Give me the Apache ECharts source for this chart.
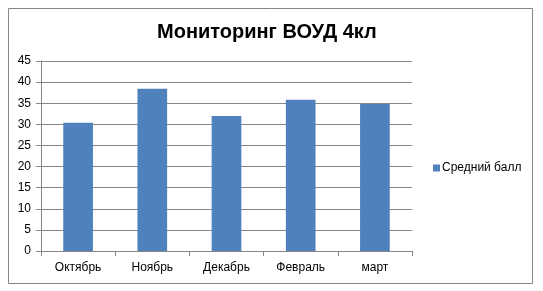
<!DOCTYPE html>
<html><head><meta charset="utf-8">
<script src="https://cdn.jsdelivr.net/npm/echarts@6/dist/echarts.min.js"></script>
<style>html,body{margin:0;padding:0;background:#fff}#c{width:543px;height:291px}</style>
</head><body><div id="c"></div>
<script>
const categories = ['Октябрь', 'Ноябрь', 'Декабрь', 'Февраль', 'март'];
const values = [30.4, 38.4, 32, 35.8, 34.8];
const seriesName = 'Средний балл';
const titleText = 'Мониторинг ВОУД 4кл';

const chart = echarts.init(document.getElementById('c'));
chart.setOption({
  animation: false,
  title: {
    text: titleText, left: 152, top: 17,
    textStyle: { fontFamily: 'Liberation Sans', fontWeight: 'bold', fontSize: 20, color: '#000' }
  },
  legend: {
    data: [seriesName], left: 428, top: 157, itemWidth: 7, itemHeight: 7, itemGap: 4,
    icon: 'rect',
    textStyle: { fontFamily: 'Liberation Sans', fontSize: 12, color: '#000', padding: [0,0,0,-3] }
  },
  grid: { left: 41, right: 131, top: 61, bottom: 40, containLabel: false },
  xAxis: {
    type: 'category', data: categories,
    axisLine: { lineStyle: { color: '#868686', width: 1 } },
    axisTick: { show: true, length: 5, lineStyle: { color: '#868686' } },
    axisLabel: { margin: 11, fontFamily: 'Liberation Sans', fontSize: 12, color: '#000' }
  },
  yAxis: {
    type: 'value', min: 0, max: 45, interval: 5,
    axisLine: { show: true, lineStyle: { color: '#868686' } },
    axisTick: { show: true, length: 5, lineStyle: { color: '#868686' } },
    axisLabel: { margin: 10, fontFamily: 'Liberation Sans', fontSize: 12, color: '#000' },
    splitLine: { lineStyle: { color: '#868686', width: 1 } }
  },
  series: [{
    name: seriesName, type: 'bar', data: values, barWidth: '40%',
    itemStyle: { color: '#4f81bd' }
  }],
  graphic: [{
    type: 'rect', shape: { x: 8.5, y: 8.5, width: 524, height: 275 },
    style: { fill: 'none', stroke: '#868686', lineWidth: 1 }, silent: true
  }]
});
</script></body></html>
